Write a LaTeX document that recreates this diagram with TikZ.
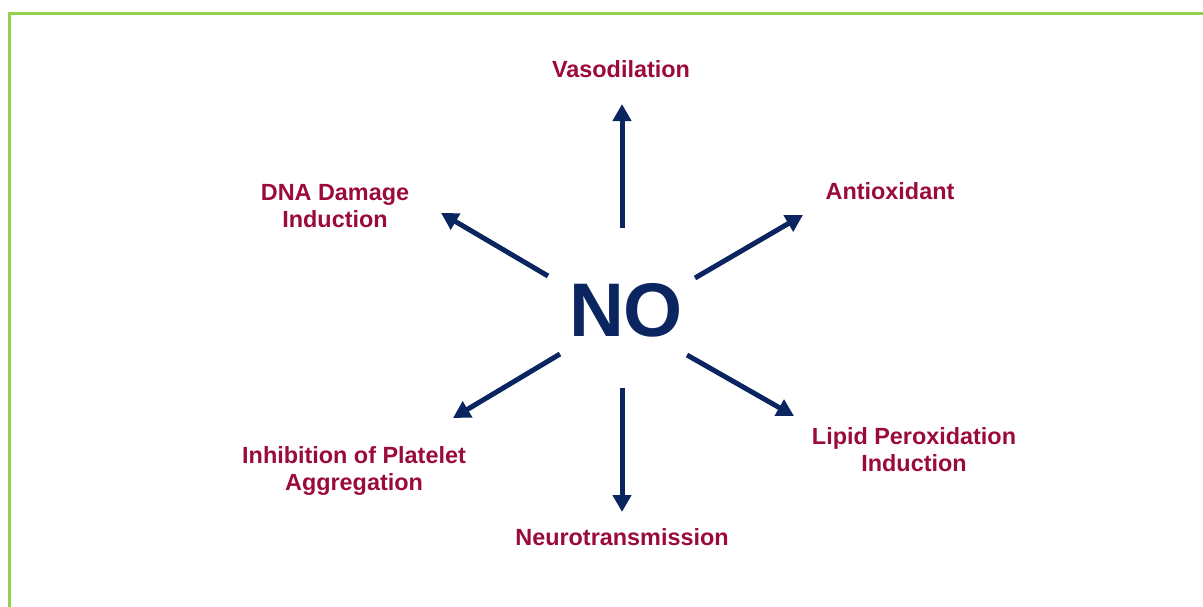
\documentclass[tikz,border=0pt]{standalone}
\usepackage{fontspec}
\setmainfont{Liberation Sans}
\usetikzlibrary{arrows.meta}
\definecolor{nonavy}{HTML}{0B2561}
\definecolor{wine}{HTML}{9B0A3C}
\definecolor{leafgreen}{HTML}{92D050}
\tikzset{
  effect/.style={text=wine,font=\bfseries\fontsize{11.7}{13.5}\selectfont,align=center,inner sep=0pt},
  push/.style={draw=nonavy,line width=2.5pt,-{Triangle[length=8.5pt,width=9pt]}}
}
\begin{document}
\begin{tikzpicture}[x=0.5pt,y=-0.5pt]
\useasboundingbox (0,0) rectangle (1203,606);
\clip (0,0) rectangle (1203,606);
\draw[leafgreen,line width=1.5pt] (9.5,620)--(9.5,13.5)--(1220,13.5);
\node[text=nonavy,font=\bfseries\fontsize{38}{38}\selectfont,inner sep=0pt] (no) at (626,310) {NO};
\node[effect] (vaso) at (621,69) {Vasodilation};
\node[effect] (anti) at (890,191) {Antioxidant};
\node[effect] (lipid) at (914,450) {Lipid Peroxidation\\Induction};
\node[effect] (neuro) at (622,537) {Neurotransmission};
\node[effect] (platelet) at (354,471) {Inhibition of Platelet\\Aggregation};
\node[effect] (dna) at (335,206) {DNA Damage\\Induction};
\coordinate (vaso tail) at (622,228);
\coordinate (vaso tip) at (622,104);
\coordinate (neuro tail) at (622,388);
\coordinate (neuro tip) at (622,512);
\coordinate (dna tail) at (548,276);
\coordinate (dna tip) at (441,213);
\coordinate (anti tail) at (695,278);
\coordinate (anti tip) at (803,215);
\coordinate (platelet tail) at (560,354);
\coordinate (platelet tip) at (453,418);
\coordinate (lipid tail) at (687,355);
\coordinate (lipid tip) at (794,416);
\draw[push] (vaso tail)--(vaso tip);
\draw[push] (neuro tail)--(neuro tip);
\draw[push] (dna tail)--(dna tip);
\draw[push] (anti tail)--(anti tip);
\draw[push] (platelet tail)--(platelet tip);
\draw[push] (lipid tail)--(lipid tip);
\end{tikzpicture}
\end{document}
